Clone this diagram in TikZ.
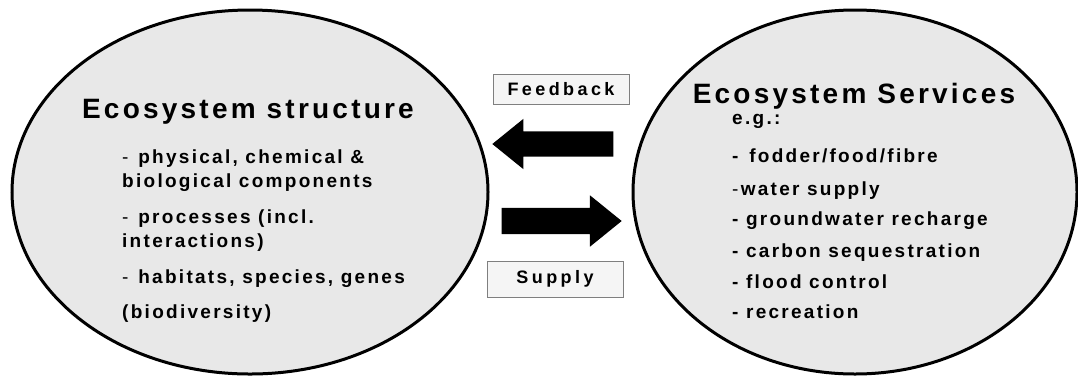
\documentclass[tikz,border=0pt]{standalone}
\usepackage{fontspec}
\setmainfont{Liberation Sans}
\newfontfamily\headfont{Liberation Sans}[LetterSpace=11.5]
\newfontfamily\itemfont{Liberation Sans}[LetterSpace=12]
\newfontfamily\tagfont{Liberation Sans}[LetterSpace=19]
\usetikzlibrary{shapes.geometric,shapes.arrows}
\definecolor{ovalgrey}{HTML}{E8E8E8}
\definecolor{tagfill}{HTML}{F5F5F5}
\definecolor{tagline}{HTML}{7F7F7F}

\begin{document}
\begin{tikzpicture}[x=1pt,y=-1pt,
    oval/.style={ellipse,draw,line width=3pt,fill=ovalgrey,inner sep=0pt},
    head/.style={anchor=base,inner sep=0pt,font=\headfont\fontsize{28}{30}\selectfont\bfseries},
    item/.style={anchor=base west,inner sep=0pt,font=\itemfont\fontsize{19}{21}\selectfont\bfseries},
    tagbox/.style={draw=tagline,fill=tagfill,inner sep=0pt,minimum width=136pt,font=\tagfont\fontsize{18}{20}\selectfont\bfseries},
    bigarrow/.style={single arrow,fill=black,inner xsep=0pt,inner ysep=12.5pt,single arrow head extend=12.5pt,single arrow tip angle=78,anchor=tip}]
      \useasboundingbox (0,0) rectangle (1078,376);
      % the two ovals
      \node[oval,minimum width=476pt,minimum height=364pt] (structure) at (250,192) {};
      \node[oval,minimum width=444pt,minimum height=364pt] (services) at (855,192) {};
      % arrows and their tags
      \node[bigarrow,minimum height=121pt,shape border rotate=180] (feedarrow) at (492,144) {};
      \node[bigarrow,minimum height=120pt,inner ysep=13pt] (supplyarrow) at (622,221) {};
      \node[tagbox,minimum height=30pt] (feedtag) at (561,89) {Feedback};
      \node[tagbox,minimum height=36pt] (supplytag) at (555,279) {Supply};
      % left oval text
      \node[head] (structtitle) at (248,118) {Ecosystem structure};
      \foreach \yb/\txt [count=\i] in {163/{\textmd{-} physical, chemical \&},187/{biological components},
          223/{\textmd{-} processes (incl.},247/{interactions)},283/{\textmd{-} habitats, species, genes},318/{(biodiversity)}}
        \node[item] (struct-\i) at (122,\yb) {\txt};
      % right oval text
      \node[head] (servtitle) at (854,103) {Ecosystem Services};
      \foreach \yb/\txt [count=\i] in {124/{e.g.:},162/{-\, fodder/food/fibre},195/{\textmd{-}water supply},
          225/{- groundwater recharge},257/{- carbon sequestration},288/{- flood control},318/{- recreation}}
        \node[item] (serv-\i) at (732,\yb) {\txt};
    \end{tikzpicture}
\end{document}
